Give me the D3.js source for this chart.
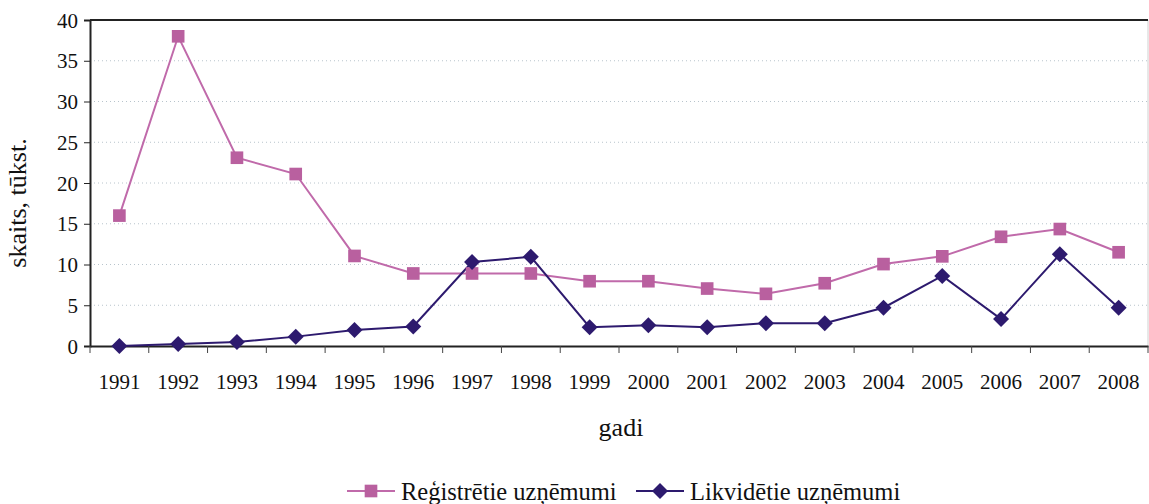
<!DOCTYPE html>
<html>
<head>
<meta charset="utf-8">
<script src="https://cdn.jsdelivr.net/npm/d3@7"></script>
</head>
<body style="margin:0;background:#fff">
<svg id="chart" width="1149" height="504" font-family="Liberation Serif"></svg>
<script>
const years = ['1991','1992','1993','1994','1995','1996','1997','1998','1999','2000',
               '2001','2002','2003','2004','2005','2006','2007','2008'];
const registered = [16, 38, 23.1, 21.1, 11.05, 8.9, 8.9, 8.9, 7.95, 7.95,
                    7.05, 6.4, 7.7, 10.05, 11.0, 13.4, 14.35, 11.5];
const liquidated = [0, 0.25, 0.5, 1.15, 1.95, 2.4, 10.3, 10.95, 2.3, 2.55,
                    2.3, 2.8, 2.8, 4.7, 8.6, 3.3, 11.25, 4.7];
const yTicks = [0, 5, 10, 15, 20, 25, 30, 35, 40];

const serif = 'Liberation Serif';
const svg = d3.select('#chart');
const margin = {left: 90, top: 20, right: 1, bottom: 158};
const width = 1149 - margin.left - margin.right;
const height = 504 - margin.top - margin.bottom;

const x = d3.scaleBand().domain(years).range([0, width]);
const y = d3.scaleLinear().domain([0, 40]).range([height, 0]);
const cx = d => x(d) + x.bandwidth() / 2;

const g = svg.append('g').attr('transform', `translate(${margin.left},${margin.top})`);

// dotted grid
g.selectAll('.grid').data(yTicks.filter(t => t > 0 && t < 40))
  .enter().append('line')
  .attr('x1', 0).attr('x2', width)
  .attr('y1', d => y(d)).attr('y2', d => y(d))
  .attr('stroke', '#b8c4cc').attr('stroke-width', 1)
  .attr('stroke-dasharray', '1,3');

// frame: right side light
g.append('line').attr('x1', width).attr('x2', width).attr('y1', 0).attr('y2', height)
  .attr('stroke', '#d0d0d0');
g.append('line').attr('x1', 0).attr('x2', width).attr('y1', 0).attr('y2', 0)
  .attr('stroke', '#222').attr('stroke-width', 2);

// y axis
const yAxis = g.append('g')
  .call(d3.axisLeft(y).tickValues(yTicks).tickSize(6).tickPadding(6))
  .attr('font-family', serif).attr('font-size', 21);
yAxis.select('.domain').attr('stroke', '#222').attr('stroke-width', 2);
yAxis.selectAll('.tick line').attr('stroke', '#222');
yAxis.selectAll('text').attr('fill', '#111').attr('dy', '0.34em');

// x axis with ticks at band edges
const xAxis = g.append('g').attr('transform', `translate(0,${height})`)
  .call(d3.axisBottom(x).tickSize(0).tickPadding(28))
  .attr('font-family', serif).attr('font-size', 21);
xAxis.select('.domain').attr('stroke', '#222').attr('stroke-width', 2);
xAxis.selectAll('text').attr('fill', '#111');
g.selectAll('.xtick').data(years.concat(['end']))
  .enter().append('line')
  .attr('x1', (d, i) => i * x.step()).attr('x2', (d, i) => i * x.step())
  .attr('y1', height).attr('y2', height + 7)
  .attr('stroke', '#444');

// axis titles
svg.append('text')
  .attr('transform', `translate(26,${margin.top + height / 2 + 20}) rotate(-90)`)
  .attr('text-anchor', 'middle')
  .attr('font-size', 26).attr('fill', '#111')
  .text('skaits, tūkst.');
svg.append('text')
  .attr('x', margin.left + width / 2 + 2).attr('y', 436)
  .attr('text-anchor', 'middle')
  .attr('font-size', 26).attr('fill', '#111')
  .text('gadi');

const pink = '#c06aaa';
const pinkMark = '#b9609f';
const navy = '#2d1a6e';

const line = d3.line().x((d, i) => cx(years[i])).y(d => y(d));

g.append('path').datum(registered).attr('d', line)
  .attr('fill', 'none').attr('stroke', pink).attr('stroke-width', 2);
g.append('path').datum(liquidated).attr('d', line)
  .attr('fill', 'none').attr('stroke', navy).attr('stroke-width', 2);

const square = d3.symbol().type(d3.symbolSquare).size(160);
const diamond = d3.symbol().type(d3.symbolSquare).size(128);

g.selectAll('.reg').data(registered).enter().append('path')
  .attr('d', square)
  .attr('transform', (d, i) => `translate(${cx(years[i])},${y(d)})`)
  .attr('fill', pinkMark);
g.selectAll('.liq').data(liquidated).enter().append('path')
  .attr('d', diamond)
  .attr('transform', (d, i) => `translate(${cx(years[i])},${y(d)}) rotate(45)`)
  .attr('fill', navy);

// legend
const legend = svg.append('g').attr('transform', 'translate(0,491)');
const items = [
  {name: 'Reģistrētie uzņēmumi', x: 347, color: pink, mark: pinkMark, sym: square, rot: 0},
  {name: 'Likvidētie uzņēmumi', x: 636, color: navy, mark: navy, sym: diamond, rot: 45}
];
items.forEach(it => {
  legend.append('line').attr('x1', it.x).attr('x2', it.x + 48)
    .attr('y1', 0).attr('y2', 0).attr('stroke', it.color).attr('stroke-width', 2);
  legend.append('path').attr('d', it.sym).attr('fill', it.mark)
    .attr('transform', `translate(${it.x + 24},0) rotate(${it.rot})`);
  legend.append('text').attr('x', it.x + 54).attr('y', 9)
    .attr('font-size', 24.5).attr('fill', '#111')
    .text(it.name);
});
</script>
</body>
</html>
